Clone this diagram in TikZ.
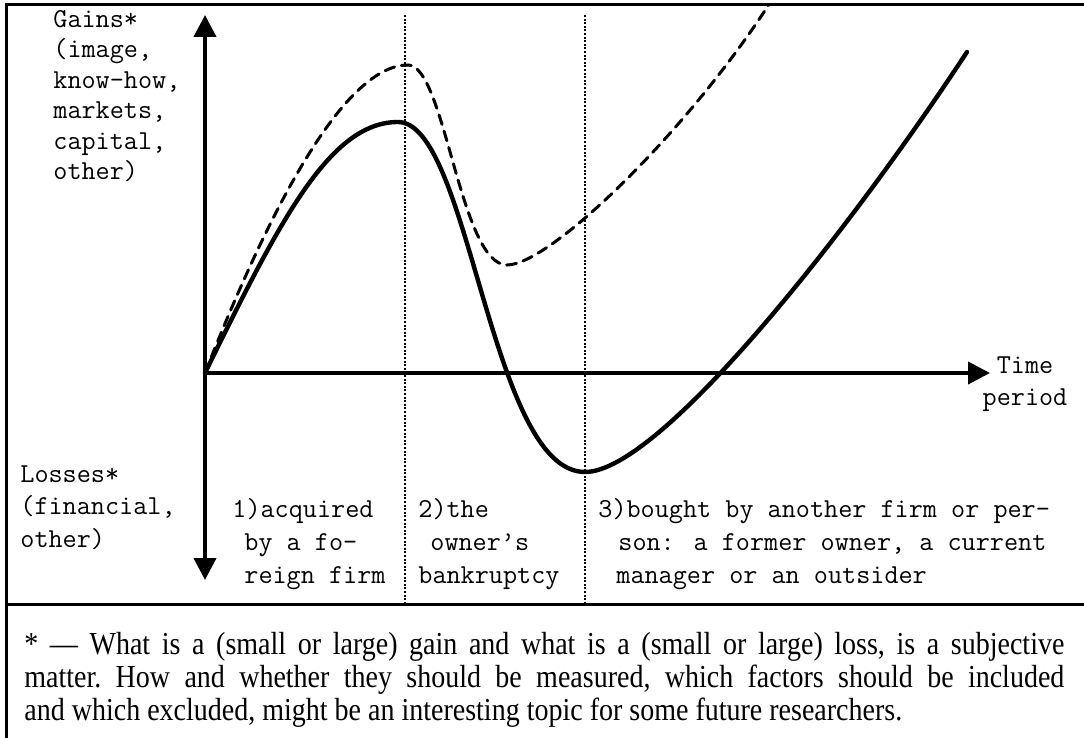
\documentclass[tikz,border=0pt]{standalone}
\usepackage{fontspec}
\setmainfont{Liberation Serif}
\newfontfamily\notefont[FakeStretch=0.875]{Liberation Serif}
\usetikzlibrary{arrows.meta}

\begin{document}
\begin{tikzpicture}[x=0.5pt,y=-0.5pt,>={Triangle[length=11pt,width=11pt]},
  frame/.style={line width=1.5pt},
  axis/.style={line width=2pt},
  gain/.style={line width=2.2pt,line cap=round},
  gainhope/.style={line width=1.5pt,dash pattern=on 5pt off 3.5pt,line cap=round},
  phase/.style={line width=0.6pt,dash pattern=on 1pt off 0.8pt},
  lbl/.style={font=\ttfamily\fontsize{13.7}{16.4}\selectfont,inner sep=0pt,
              align=left,anchor=north west},
  note/.style={font=\notefont\fontsize{16}{16.5}\selectfont\frenchspacing,inner sep=0pt,
               text width=520pt,align=justify,anchor=north west}]

  \useasboundingbox (0,0) rectangle (1084,738);

  % --- table frame ---
  \draw[frame] (6,738) -- (6,5) -- (1084,5);
  \draw[frame] (6,604) -- (1084,604);

  % --- axes ---
  \coordinate (O) at (205,373);
  \coordinate (ytop) at (205,15);
  \coordinate (ybot) at (205,580);
  \coordinate (xend) at (990,373);
  \draw[axis,->] (O) -- (ytop);
  \draw[axis,->] (O) -- (ybot);
  \draw[axis,->] (O) -- (xend);

  % --- phase borders ---
  \coordinate (p1t) at (405,15);
  \coordinate (p1b) at (405,604);
  \coordinate (p2t) at (585,15);
  \coordinate (p2b) at (585,604);
  \draw[phase] (p1t) -- (p1b);
  \draw[phase] (p2t) -- (p2b);

  % --- curves ---
  \begin{scope}
    \clip (6,5) rectangle (1084,604);
    \draw[gainhope] (O) .. controls (262,228) and (340,65) .. (408,65)
          .. controls (445,65) and (460,265) .. (507,265)
          .. controls (550,265) and (690,130) .. (775,-5);
  \end{scope}
  \draw[gain] (O) .. controls (280,220) and (330,122) .. (398,122)
        .. controls (470,122) and (490,472) .. (585,472)
        .. controls (660,472) and (850,230) .. (967,52);

  % --- axis labels ---
  \node[lbl,font=\ttfamily\fontsize{13.7}{15.2}\selectfont] (gains) at (53,10)
        {Gains*\\(image,\\know-how,\\markets,\\capital,\\other)};
  \node[lbl] (losses) at (20,465) {Losses*\\(financial,\\other)};
  \node[lbl,align=center,anchor=north] (time) at (1025,356) {Time\\period};

  % --- phases ---
  \node[lbl] (ph1) at (232,498) {1)acquired\\\hspace{6pt}by a fo-\\\hspace{6pt}reign firm};
  \node[lbl] (ph2) at (418,498) {2)the\\\hspace{6pt}owner’s\\bankruptcy};
  \node[lbl] (ph3) at (598,498) {3)bought by another firm or per-\\\hspace{10pt}son: a former owner, a current\\\hspace{9pt}manager or an outsider};

  % --- footnote ---
  \node[note] (fn) at (24,632) {* — What is a (small or large) gain and what is a (small or large) loss, is a subjective\linebreak
    matter. How and whether they should be measured, which factors should be included\linebreak
    and which excluded, might be an interesting topic for some future researchers.};

\end{tikzpicture}
\end{document}
